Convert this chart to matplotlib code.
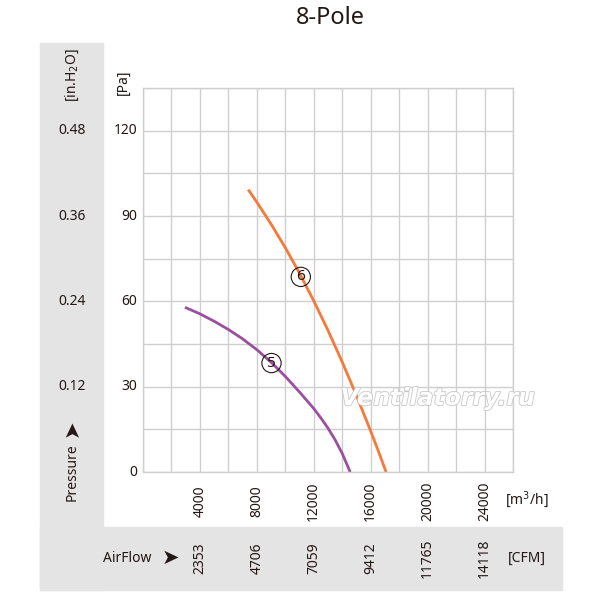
import numpy as np
import matplotlib
matplotlib.use('Agg')
import matplotlib.pyplot as plt
import matplotlib.patheffects as pe
from matplotlib.patches import Rectangle

plt.rcParams['font.family'] = ['Noto Sans', 'DejaVu Sans']

# curve data: airflow [m3/h], pressure [Pa]
flow_5 = [2950, 4000, 5000, 6000, 7000, 8000, 9000, 10000, 11000, 12000,
          12500, 13000, 13500, 14000, 14560]
pres_5 = [57.9, 55.6, 53.0, 50.1, 46.8, 43.0, 38.6, 33.6, 28.1, 22.3,
          19.0, 15.4, 11.3, 6.5, 0.0]
flow_6 = [7390, 8000, 9000, 10000, 11000, 12000, 13000, 14000, 15000,
          16000, 16500, 17080]
pres_6 = [99.3, 94.85, 87.15, 78.85, 69.85, 60.15, 49.75, 38.65, 26.85,
          14.35, 7.85, 0.0]

flow_ticks = [4000, 8000, 12000, 16000, 20000, 24000]
cfm_labels = ['2353', '4706', '7059', '9412', '11765', '14118']
pa_ticks = [0, 30, 60, 90, 120]
inh2o_labels = ['', '0.12', '0.24', '0.36', '0.48']

txt = '#231815'
W, H = 600, 600

fig = plt.figure(figsize=(6, 6), dpi=100)

def fx(px):
    return px / W

def fy(py):
    return 1 - py / H

# grey side panels
grey = '#e4e4e4'
fig.patches.append(Rectangle((fx(40), fy(590)), (103 - 40) / W, (590 - 43) / H,
                             transform=fig.transFigure, color=grey, zorder=0))
fig.patches.append(Rectangle((fx(40), fy(590)), (562 - 40) / W, (590 - 527) / H,
                             transform=fig.transFigure, color=grey, zorder=0))

ax = fig.add_axes([fx(143), fy(472), (513 - 143) / W, (472 - 88) / H])
ax.set_xlim(0, 26000)
ax.set_ylim(0, 135)
ax.set_xticks(np.arange(0, 26001, 2000))
ax.set_yticks(np.arange(0, 136, 15))
ax.grid(True, color='#cfcfcf', lw=1)
ax.tick_params(length=0, labelbottom=False, labelleft=False)
for s in ax.spines.values():
    s.set_color('#cfcfcf')
    s.set_linewidth(1)
ax.set_axisbelow(True)

ax.plot(flow_5, pres_5, color='#9b4f9f', lw=2, solid_capstyle='butt', solid_joinstyle='round')
ax.plot(flow_6, pres_6, color='#f7793a', lw=2, solid_capstyle='butt', solid_joinstyle='round')

# curve numbers
for x, y, n in [(9030, 38.3, '5'), (11090, 68.6, '6')]:
    ax.text(x, y, n, ha='center', va='center', fontsize=11, color=txt,
            bbox=dict(boxstyle='circle,pad=0.14', fc='none', ec=txt, lw=0.8))

# watermark
fig.text(fx(535), fy(398), 'Ventilatorry.ru', ha='right', va='center', fontsize=17,
         style='italic', weight='bold', color='white', family='DejaVu Sans',
         path_effects=[pe.withStroke(linewidth=1.2, foreground='#c8c8c8')])

# pressure tick labels
for v, lab in zip(pa_ticks, inh2o_labels):
    yy = ax.transData.transform((0, v))[1] / H
    fig.text(fx(137), yy, str(v), ha='right', va='center', fontsize=10, color=txt)
    if lab:
        fig.text(fx(72), yy, lab, ha='center', va='center', fontsize=10, color=txt)

# airflow tick labels
for v, lab in zip(flow_ticks, cfm_labels):
    xx = ax.transData.transform((v, 0))[0] / W
    fig.text(xx, fy(501), str(v), ha='center', va='center', rotation=90,
             fontsize=10, color=txt)
    fig.text(xx, fy(558), lab, ha='center', va='center', rotation=90,
             fontsize=10, color=txt)

fig.text(fx(330), fy(18), '8-Pole', ha='center', va='center', fontsize=17, color=txt)
fig.text(fx(72), fy(75), '[in.H$_2$O]', ha='center', va='center', rotation=90,
         fontsize=10, color=txt)
fig.text(fx(123), fy(82), '[Pa]', ha='center', va='center', rotation=90,
         fontsize=10, color=txt)
fig.text(fx(72), fy(472), 'Pressure', ha='center', va='center', rotation=90,
         fontsize=10, color=txt)
fig.text(fx(72), fy(428), '\u27a4', ha='center', va='center', rotation=90,
         fontsize=15, color=txt, family='DejaVu Sans')
fig.text(fx(527), fy(500), '[m$^3$/h]', ha='center', va='center', fontsize=10, color=txt)
fig.text(fx(127), fy(558), 'AirFlow', ha='center', va='center', fontsize=10, color=txt)
fig.text(fx(170), fy(558), '\u27a4', ha='center', va='center',
         fontsize=15, color=txt, family='DejaVu Sans')
fig.text(fx(527), fy(558), '[CFM]', ha='center', va='center', fontsize=10, color=txt)

fig.savefig('out.png', dpi=100)
